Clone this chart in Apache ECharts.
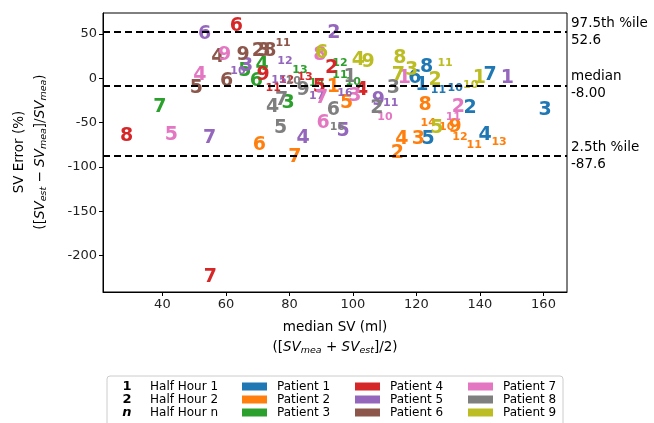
<!DOCTYPE html>
<html>
<head>
<meta charset="utf-8">
<script src="https://cdn.jsdelivr.net/npm/echarts@6/dist/echarts.min.js"></script>
<style>
  html, body { margin: 0; padding: 0; background: #fff; }
  #main { width: 654px; height: 423px; }
</style>
</head>
<body>
<div id="main"></div>
<script>
// patient colours (tab10)
const patientNames = ['Patient 1', 'Patient 2', 'Patient 3', 'Patient 4', 'Patient 5',
    'Patient 6', 'Patient 7', 'Patient 8', 'Patient 9'];
const patientColors = ['#1f77b4', '#ff7f0e', '#2ca02c', '#d62728', '#9467bd',
    '#8c564b', '#e377c2', '#7f7f7f', '#bcbd22'];

// half hour number, median SV (ml), SV error (%) per patient
const p1Half = [1, 2, 3, 4, 5, 6, 7, 8, 10, 11];
const p1SV = [121.7, 136.9, 160.5, 141.6, 123.7, 119.5, 143.2, 123.2, 132.2, 126.9];
const p1Err = [-7.7, -34.0, -35.9, -64.2, -69.0, -0.1, 3.6, 13.0, -11.4, -13.3];

const p2Half = [1, 2, 3, 4, 5, 6, 7, 8, 9, 10, 11, 12, 13, 14];
const p2SV = [93.8, 114.0, 120.6, 115.4, 98.0, 70.5, 81.7, 122.7, 132.2, 129.5, 138.2, 133.7, 146.0, 123.7];
const p2Err = [-9.6, -84.9, -69.0, -69.0, -28.4, -75.5, -88.7, -29.8, -55.5, -55.5, -76.0, -66.1, -71.8, -51.0];

const p3Half = [3, 4, 5, 6, 7, 10, 11, 12, 13, 14];
const p3SV = [79.6, 71.4, 66.0, 69.6, 39.2, 100.1, 95.9, 95.9, 83.3, 88.6];
const p3Err = [-28.0, 15.3, 7.8, -3.5, -32.2, -4.0, 3.6, 16.8, 9.6, -5.8];

const p4Half = [2, 4, 5, 6, 7, 8, 9, 11, 12, 13];
const p4SV = [93.3, 102.7, 89.4, 63.3, 55.1, 28.7, 71.7, 74.9, 79.1, 84.9];
const p4Err = [11.2, -13.3, -9.6, 59.0, -224.3, -65.3, 4.0, -11.1, -1.7, 1.4];

const p5Half = [1, 2, 3, 4, 5, 6, 7, 9, 10, 11, 12, 15, 16, 17];
const p5SV = [148.6, 94.0, 66.5, 84.3, 96.9, 53.3, 54.9, 108.0, 63.8, 111.9, 78.6, 76.7, 97.5, 88.6];
const p5Err = [-0.1, 51.4, 13.4, -67.9, -59.7, 49.9, -67.9, -24.6, 7.8, -28.4, 19.1, -2.0, -17.1, -20.5];

const p6Half = [2, 3, 4, 5, 6, 8, 9, 11];
const p6SV = [70.2, 72.0, 57.5, 50.7, 60.2, 73.8, 65.4, 78.0];
const p6Err = [30.4, 30.4, 23.6, -11.4, -3.5, 31.1, 26.6, 39.8];

const p7Half = [1, 2, 3, 4, 5, 6, 7, 8, 9, 10, 11];
const p7SV = [116.2, 133.2, 100.6, 51.8, 42.8, 90.6, 90.1, 89.6, 59.6, 110.1, 131.6];
const p7Err = [-0.1, -32.2, -20.1, 3.6, -64.2, -51.0, -22.4, 26.2, 26.2, -44.2, -43.5];

const p8Half = [1, 2, 3, 4, 5, 6, 7, 9, 10, 16];
const p8SV = [99.1, 107.5, 112.7, 74.7, 77.2, 93.8, 77.5, 84.3, 81.2, 95.1];
const p8Err = [1.7, -34.0, -11.1, -32.5, -56.6, -35.9, -24.3, -13.0, -2.8, -54.8];

const p9Half = [1, 2, 3, 4, 5, 6, 7, 8, 9, 10, 11];
const p9SV = [139.8, 125.9, 118.5, 101.7, 126.4, 90.1, 114.3, 114.8, 104.8, 137.1, 129.0];
const p9Err = [-0.1, -2.0, 9.3, 20.6, -56.6, 28.5, 3.6, 23.4, 18.6, -7.7, 17.5];

// limits of agreement
const limitValues = [52.6, -8.00, -87.6];
const limitLabels = ['97.5th %ile\n52.6', 'median\n-8.00', '2.5th %ile\n-87.6'];

const xTicks = [40, 60, 80, 100, 120, 140, 160];
const yTicks = [-200, -150, -100, -50, 0, 50];

const halves = [p1Half, p2Half, p3Half, p4Half, p5Half, p6Half, p7Half, p8Half, p9Half];
const svs = [p1SV, p2SV, p3SV, p4SV, p5SV, p6SV, p7SV, p8SV, p9SV];
const errs = [p1Err, p2Err, p3Err, p4Err, p5Err, p6Err, p7Err, p8Err, p9Err];

const FONT = 'DejaVu Sans';

let series = patientNames.map(function (name, i) {
    return {
        name: name,
        type: 'scatter',
        symbol: 'circle',
        symbolSize: 0.1,
        itemStyle: {color: patientColors[i], opacity: 1},
        label: {
            show: true,
            position: 'inside',
            fontFamily: FONT,
            fontWeight: 'bold',
            color: patientColors[i],
            opacity: 1,
            formatter: function (p) { return String(p.value[2]); }
        },
        data: halves[i].map(function (h, j) {
            return {
                value: [svs[i][j], errs[i][j], h],
                label: {fontSize: h > 9 ? 11 : 19}
            };
        })
    };
});

// dashed percentile lines
series[0].markLine = {
    silent: true,
    symbol: ['none', 'none'],
    lineStyle: {color: '#000', type: [7, 4], width: 2, opacity: 1},
    label: {
        show: true,
        position: 'end',
        distance: 4,
        color: '#000',
        fontFamily: FONT,
        fontSize: 13.5,
        lineHeight: 17,
        align: 'left'
    },
    data: limitValues.map(function (v, k) {
        return {yAxis: v, label: {formatter: limitLabels[k]}};
    })
};

function legendCol(from, left) {
    return {
        data: patientNames.slice(from, from + 3).map(function (n, k) {
            return {name: n, itemStyle: {color: patientColors[from + k], opacity: 1, borderWidth: 0}};
        }),
        orient: 'vertical',
        left: left,
        top: 380,
        padding: 0,
        itemGap: 0,
        itemWidth: 25,
        itemHeight: 8,
        icon: 'rect',
        selectedMode: false,
        textStyle: {fontFamily: FONT, fontSize: 12, color: '#000', lineHeight: 13, padding: [0, 0, 0, 5]}
    };
}

let graphics = [
    {type: 'rect', z: 0, shape: {x: 107, y: 376, width: 456, height: 60, r: 3},
        style: {fill: '#fff', stroke: '#cccccc', lineWidth: 1}},
    {type: 'text', x: 335, y: 327, style: {text: 'median SV (ml)', font: '13.5px ' + FONT, fill: '#000', align: 'center', verticalAlign: 'middle'}},
    {type: 'text', x: 335, y: 347, style: {
        text: '([{i|SV}{s|mea}{n| + }{i|SV}{s|est}]/2)',
        font: '13.5px ' + FONT, fill: '#000', align: 'center', verticalAlign: 'middle',
        rich: {
            i: {fontFamily: FONT, fontSize: 13.5, fontStyle: 'italic', lineHeight: 18},
            s: {fontFamily: FONT, fontSize: 9.5, fontStyle: 'italic', verticalAlign: 'bottom', lineHeight: 18},
            n: {fontFamily: FONT, fontSize: 13.5, lineHeight: 18}
        }
    }},
    {type: 'text', x: 19, y: 152, rotation: Math.PI / 2, style: {text: 'SV Error (%)', font: '13.5px ' + FONT, fill: '#000', align: 'center', verticalAlign: 'middle'}},
    {type: 'text', x: 40, y: 152, rotation: Math.PI / 2, style: {
        text: '([{i|SV}{s|est}{n| − }{i|SV}{s|mea}]/{i|SV}{s|mea})',
        font: '13.5px ' + FONT, fill: '#000', align: 'center', verticalAlign: 'middle',
        rich: {
            i: {fontFamily: FONT, fontSize: 13.5, fontStyle: 'italic', lineHeight: 18},
            s: {fontFamily: FONT, fontSize: 9.5, fontStyle: 'italic', verticalAlign: 'bottom', lineHeight: 18},
            n: {fontFamily: FONT, fontSize: 13.5, lineHeight: 18}
        }
    }}
];
// half hour key in the legend
const keySymbols = ['1', '2', 'n'];
const keyTexts = ['Half Hour 1', 'Half Hour 2', 'Half Hour n'];
keySymbols.forEach(function (s, k) {
    let y = 386.5 + k * 13;
    graphics.push({type: 'text', x: 127, y: y, style: {text: s, font: (k == 2 ? 'italic ' : '') + 'bold 13px ' + FONT, fill: '#000', align: 'center', verticalAlign: 'middle'}});
    graphics.push({type: 'text', x: 150, y: y, style: {text: keyTexts[k], font: '12px ' + FONT, fill: '#000', align: 'left', verticalAlign: 'middle'}});
});

let option = {
    animation: false,
    backgroundColor: '#fff',
    grid: {left: 103, right: 87, top: 13, bottom: 131, show: true, borderColor: '#000', borderWidth: 1},
    xAxis: {
        type: 'value', min: 21.3, max: 167.4,
        axisLine: {show: true, onZero: false, lineStyle: {color: '#000'}},
        axisTick: {show: true, length: 4, lineStyle: {color: '#000'}, customValues: xTicks},
        axisLabel: {fontFamily: FONT, fontSize: 13, color: '#222', margin: 6, customValues: xTicks},
        splitLine: {show: false}
    },
    yAxis: {
        type: 'value', min: -241.2, max: 73.7,
        axisLine: {show: true, onZero: false, lineStyle: {color: '#000'}},
        axisTick: {show: true, length: 4, lineStyle: {color: '#000'}, customValues: yTicks},
        axisLabel: {fontFamily: FONT, fontSize: 13, color: '#222', margin: 6, customValues: yTicks},
        splitLine: {show: false}
    },
    legend: [
        legendCol(0, 242),
        legendCol(3, 355),
        legendCol(6, 468)
    ],
    graphic: graphics,
    series: series
};

echarts.init(document.getElementById('main')).setOption(option);
</script>
</body>
</html>
